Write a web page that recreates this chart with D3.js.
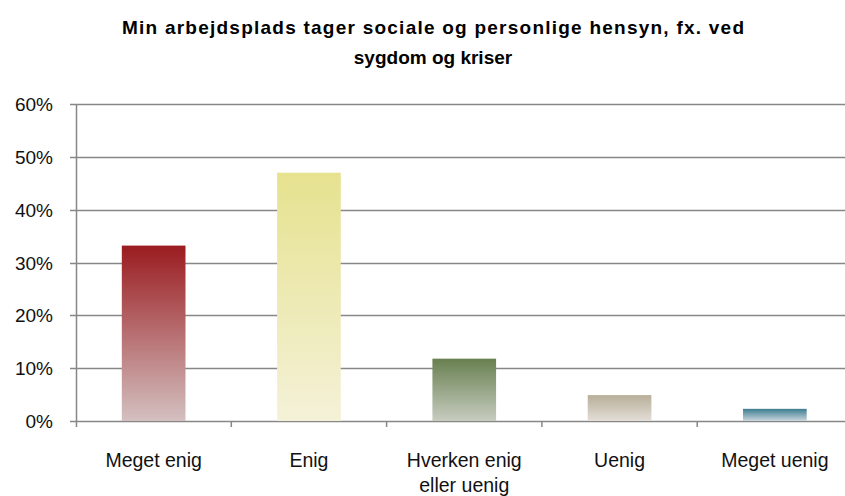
<!DOCTYPE html>
<html>
<head>
<meta charset="utf-8">
<script src="https://cdn.jsdelivr.net/npm/d3@7"></script>
<style>
  body { margin: 0; background: #fff; }
  text { font-family: "Liberation Sans", Arial, sans-serif; }
</style>
</head>
<body>
<div id="chart"></div>
<script>
// data
const categories = [["Meget enig"], ["Enig"], ["Hverken enig", "eller uenig"], ["Uenig"], ["Meget uenig"]];
const values = [0.332, 0.47, 0.118, 0.049, 0.023];
const topColors = ["#9a1c20", "#e6e28f", "#688050", "#b8ae98", "#3c7c90"];
const bottomColors = ["#d4c0c0", "#f4f1d8", "#c7ccc0", "#e3ded7", "#cbd6de"];
const yTicks = [0, 0.1, 0.2, 0.3, 0.4, 0.5, 0.6];
const titleLines = ["Min arbejdsplads tager sociale og personlige hensyn, fx. ved", "sygdom og kriser"];

const width = 845, height = 496;
const margin = {left: 76, top: 104, bottom: 75};
const bandW = 155.3;

const svg = d3.select("#chart").append("svg")
    .attr("width", width)
    .attr("height", height);

const x = d3.scaleBand()
    .domain(d3.range(categories.length))
    .range([margin.left, margin.left + bandW * categories.length])
    .paddingInner(0.59)
    .paddingOuter(0.295);

const y = d3.scaleLinear()
    .domain([0, 0.6])
    .range([height - margin.bottom, margin.top]);

// gradients per bar
const defs = svg.append("defs");
values.forEach((v, i) => {
    const g = defs.append("linearGradient")
        .attr("id", "grad" + i)
        .attr("x1", 0).attr("y1", 0).attr("x2", 0).attr("y2", 1);
    g.append("stop").attr("offset", "0%").attr("stop-color", topColors[i]);
    g.append("stop").attr("offset", "100%").attr("stop-color", bottomColors[i]);
});

// gridlines
svg.append("g")
    .selectAll("line")
    .data(yTicks)
    .join("line")
    .attr("x1", margin.left - 6)
    .attr("x2", width)
    .attr("y1", d => Math.round(y(d)) + 0.5)
    .attr("y2", d => Math.round(y(d)) + 0.5)
    .attr("stroke", "#878787")
    .attr("stroke-width", 1.5);

// y labels
svg.append("g")
    .selectAll("text")
    .data(yTicks)
    .join("text")
    .attr("x", 53)
    .attr("y", d => y(d) + 7)
    .attr("text-anchor", "end")
    .attr("font-size", 19)
    .attr("fill", "#111")
    .text(d => d3.format(".0%")(d));

// bars
svg.append("g")
    .selectAll("rect")
    .data(values)
    .join("rect")
    .attr("x", (d, i) => x(i))
    .attr("width", x.bandwidth())
    .attr("y", d => y(d))
    .attr("height", d => y(0) - y(d))
    .attr("fill", (d, i) => "url(#grad" + i + ")");

// axis lines
svg.append("line")
    .attr("x1", margin.left + 0.5).attr("x2", margin.left + 0.5)
    .attr("y1", y(0.6)).attr("y2", y(0) + 6)
    .attr("stroke", "#878787").attr("stroke-width", 1.5);

svg.append("g")
    .selectAll("line")
    .data(d3.range(1, categories.length + 1))
    .join("line")
    .attr("x1", i => margin.left + bandW * i)
    .attr("x2", i => margin.left + bandW * i)
    .attr("y1", y(0))
    .attr("y2", y(0) + 6)
    .attr("stroke", "#878787").attr("stroke-width", 1.5);

// category labels
const labels = svg.append("g")
    .selectAll("text")
    .data(categories)
    .join("text")
    .attr("text-anchor", "middle")
    .attr("font-size", 19.5)
    .attr("fill", "#111")
    .attr("transform", (d, i) => `translate(${x(i) + x.bandwidth() / 2},0)`);

labels.selectAll("tspan")
    .data(d => d)
    .join("tspan")
    .attr("x", 0)
    .attr("y", (d, j) => 467 + j * 25)
    .text(d => d);

// title
svg.append("text")
    .attr("text-anchor", "middle")
    .attr("font-size", 19)
    .attr("font-weight", "bold")
    .selectAll("tspan")
    .data(titleLines)
    .join("tspan")
    .attr("x", 433)
    .attr("y", (d, j) => 34 + j * 30)
    .attr("textLength", (d, j) => j === 0 ? 622 : null)
    .attr("lengthAdjust", "spacing")
    .text(d => d);
</script>
</body>
</html>
